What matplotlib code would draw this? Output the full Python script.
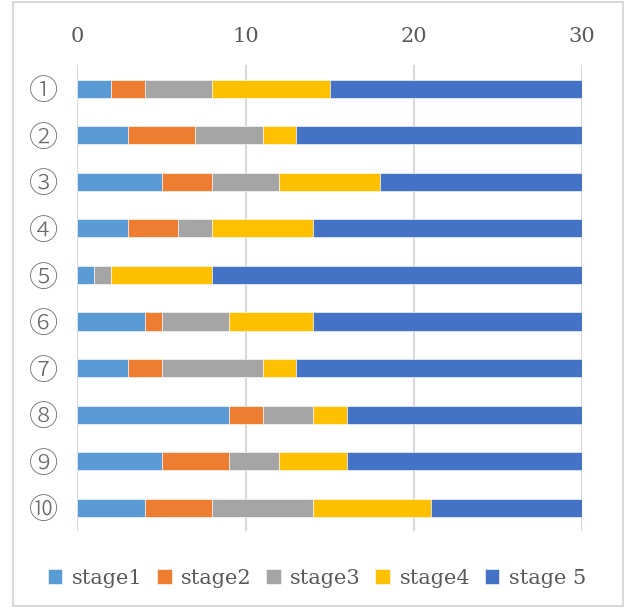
import matplotlib.pyplot as plt
import matplotlib.patches as mpatches
import numpy as np

plt.rcParams['font.family'] = ['DejaVu Serif', 'Noto Sans CJK JP']

cases = ["①", "②", "③", "④", "⑤", "⑥", "⑦", "⑧", "⑨", "⑩"]
stage1 = [2, 3, 5, 3, 1, 4, 3, 9, 5, 4]
stage2 = [2, 4, 3, 3, 0, 1, 2, 2, 4, 4]
stage3 = [4, 4, 4, 2, 1, 4, 6, 3, 3, 6]
stage4 = [7, 2, 6, 6, 6, 5, 2, 2, 4, 7]
stage5 = [15, 17, 12, 16, 22, 16, 17, 14, 14, 9]
labels = ["stage1", "stage2", "stage3", "stage4", "stage 5"]
colors = ["#5B9BD5", "#ED7D31", "#A5A5A5", "#FFC000", "#4472C4"]

fig = plt.figure(figsize=(6.26, 6.08), dpi=100)
ax = fig.add_axes([0.1238, 0.1266, 0.806, 0.766])

# light frame around the whole chart
fig.patches.append(mpatches.Rectangle((13/626, 0.003), 610/626, 0.994,
                                      transform=fig.transFigure, fill=False,
                                      edgecolor="#d9d9d9", linewidth=1.5))

y = np.arange(len(cases))
left = np.zeros(len(cases))
for vals, lab, col in zip([stage1, stage2, stage3, stage4, stage5], labels, colors):
    ax.barh(y, vals, left=left, height=0.39, color=col, label=lab,
            edgecolor="white", linewidth=0.4, zorder=3)
    left = left + np.array(vals)

ax.set_xlim(0, 30)
ax.set_ylim(len(cases) - 0.5, -0.5)
ax.set_xticks([0, 10, 20, 30])
ax.set_yticks(y)
ax.xaxis.tick_top()
ax.tick_params(axis='x', length=0, pad=14, labelsize=15, labelcolor="#595959")
ax.tick_params(axis='y', length=0, pad=14, labelsize=21, labelcolor="#6a6a6a")
ax.set_yticklabels(cases, family=['Noto Sans CJK JP'], fontsize=21, fontweight='light')
ax.grid(axis='x', color="#d9d9d9", linewidth=1.5, zorder=0)
for s in ax.spines.values():
    s.set_visible(False)

leg = fig.legend(loc='center', bbox_to_anchor=(0.506, 0.049), ncol=5,
                 frameon=False, fontsize=15, handlelength=0.7, handleheight=0.7,
                 handletextpad=0.45, columnspacing=0.7, labelcolor="#595959")

fig.savefig("out.png", dpi=100)
